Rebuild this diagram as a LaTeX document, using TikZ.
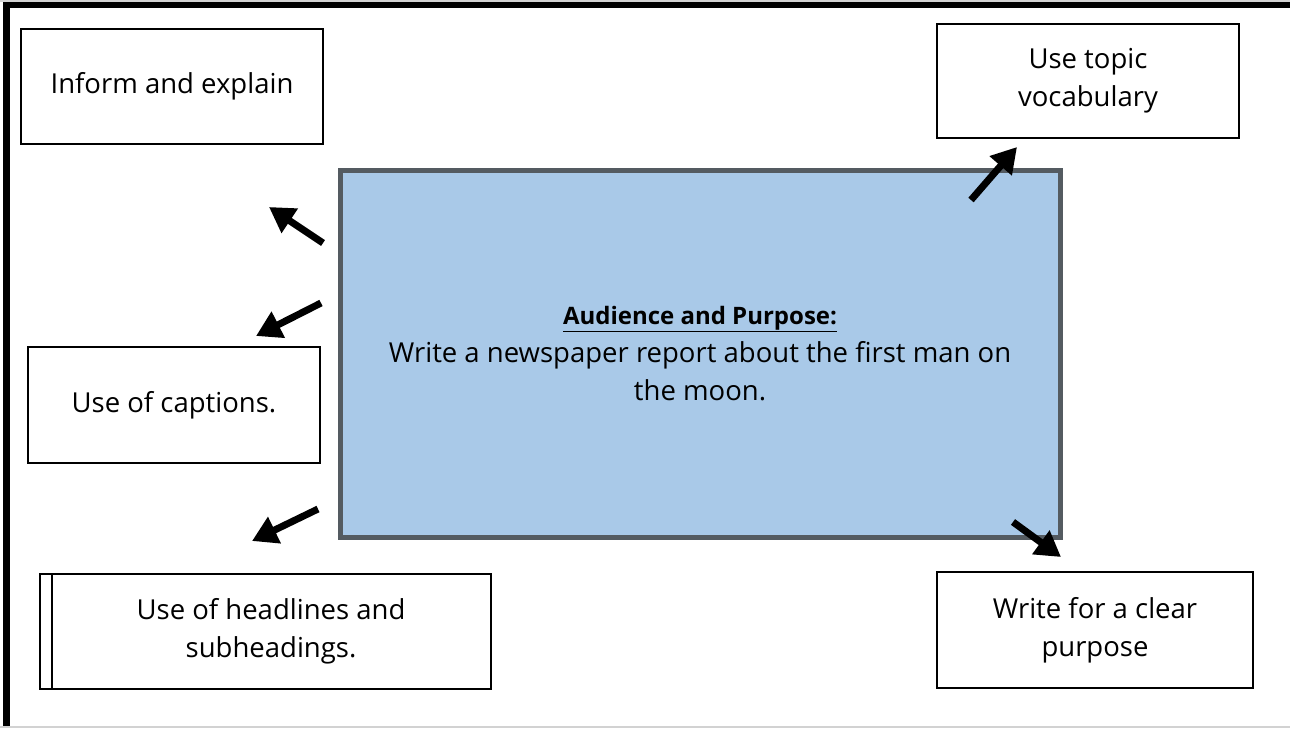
\documentclass[tikz,border=0pt]{standalone}
\usepackage{fontspec}
\setmainfont{Open Sans}
\usetikzlibrary{arrows.meta}
\definecolor{boxblue}{RGB}{169,201,232}
\definecolor{boxedge}{RGB}{84,91,97}
\definecolor{pagegrey}{RGB}{210,210,210}
\tikzset{
  card/.style={draw=black, line width=2pt, fill=white, align=center, inner sep=0pt,
    font=\fontsize{27.5}{38}\selectfont},
  mainbox/.style={draw=boxedge, line width=5pt, fill=boxblue, align=center, inner sep=0pt,
    font=\fontsize{27.5}{38}\selectfont},
  bigarrow/.style={line width=7pt, -{Triangle[length=25pt,width=28pt]}},
}
\begin{document}
\begin{tikzpicture}[x=1pt,y=-1pt]
\useasboundingbox (0,0) rectangle (1290,728);
\fill[white] (0,0) rectangle (1290,728);
% page edges
\fill[pagegrey] (0,0) rectangle (1290,2);
\fill[pagegrey] (0,726) rectangle (1290,728);
\fill[black] (3,2) rectangle (1290,8);
\fill[black] (3,2) rectangle (10,726);

% nodes
\node[card, minimum width=302pt, minimum height=115pt] (inform) at (172,86.5) {Inform and explain};
\node[card, minimum width=302pt, minimum height=114pt] (vocab) at (1088,81) {Use topic\\vocabulary};
\node[card, minimum width=292pt, minimum height=116pt] (captions) at (174,405) {Use of captions.};
\node[card, minimum width=451pt, minimum height=115pt] (headlines) at (265.5,631.5) {};
\draw[line width=2pt] (51.5,574) -- (51.5,689);
\node[font=\fontsize{27.5}{38}\selectfont, align=center] (headtext) at (271,631.5) {Use of headlines and\\subheadings.};
\node[card, minimum width=316pt, minimum height=116pt] (purpose) at (1095,630) {Write for a clear\\purpose};
\node[mainbox, minimum width=720pt, minimum height=367pt] (main) at (700,353.5)
  {{\fontsize{24}{38}\selectfont\textbf{\underline{Audience and Purpose:}}}\\Write a newspaper report about the first man on\\the moon.};

% arrows
\coordinate (a1) at (323,243); \coordinate (a2) at (269,207);
\coordinate (b1) at (321,303); \coordinate (b2) at (256,336);
\coordinate (c1) at (318,509); \coordinate (c2) at (252,541);
\coordinate (d1) at (971,200); \coordinate (d2) at (1017,147);
\coordinate (e1) at (1013,522); \coordinate (e2) at (1061,557);
\draw[bigarrow] (a1) -- (a2);
\draw[bigarrow] (b1) -- (b2);
\draw[bigarrow] (c1) -- (c2);
\draw[bigarrow] (d1) -- (d2);
\draw[bigarrow] (e1) -- (e2);
\end{tikzpicture}
\end{document}
